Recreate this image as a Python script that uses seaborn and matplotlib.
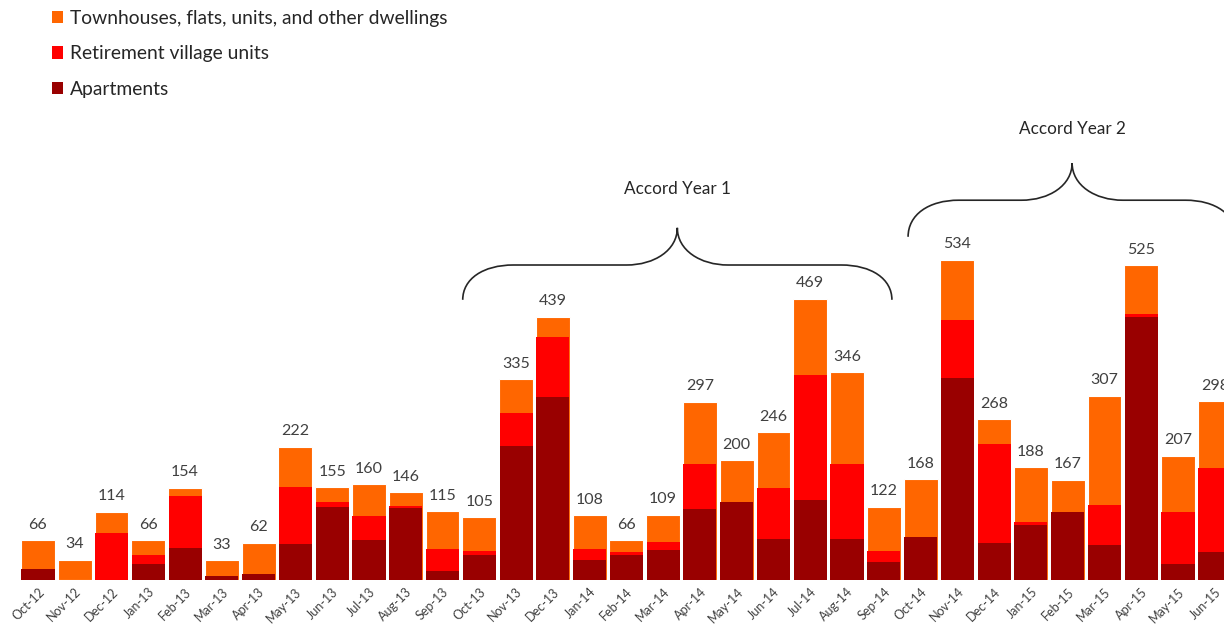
import numpy as np
import pandas as pd
import matplotlib
matplotlib.use("Agg")
import matplotlib.pyplot as plt
from matplotlib.path import Path
from matplotlib.patches import PathPatch, Patch
import seaborn as sns

months = ["Oct-12", "Nov-12", "Dec-12", "Jan-13", "Feb-13", "Mar-13", "Apr-13",
          "May-13", "Jun-13", "Jul-13", "Aug-13", "Sep-13", "Oct-13", "Nov-13",
          "Dec-13", "Jan-14", "Feb-14", "Mar-14", "Apr-14", "May-14", "Jun-14",
          "Jul-14", "Aug-14", "Sep-14", "Oct-14", "Nov-14", "Dec-14", "Jan-15",
          "Feb-15", "Mar-15", "Apr-15", "May-15", "Jun-15"]

apartments = [18, 0, 0, 26, 53, 7, 10, 60, 122, 67, 120, 15, 41, 224,
              305, 33, 42, 50, 118, 130, 68, 133, 69, 30, 71, 337,
              62, 91, 114, 58, 439, 26, 47]
retirement = [0, 0, 78, 15, 87, 0, 0, 95, 8, 40, 3, 36, 8, 54,
              100, 18, 5, 14, 75, 0, 86, 209, 125, 18, 0, 96,
              165, 6, 0, 67, 4, 88, 140]
townhouses = [48, 34, 36, 25, 14, 26, 52, 67, 25, 53, 23, 64, 56, 57,
              34, 57, 19, 45, 104, 70, 92, 127, 152, 74, 97, 101,
              41, 91, 53, 182, 82, 93, 111]

series_names = ["Townhouses, flats, units, and other dwellings",
                "Retirement village units",
                "Apartments"]
colors = {"Townhouses, flats, units, and other dwellings": "#FF6600",
          "Retirement village units": "#FF0000",
          "Apartments": "#990000"}

accord_labels = ["Accord Year 1", "Accord Year 2"]

df = pd.DataFrame({"month": months,
                   "apt": apartments,
                   "ret": retirement,
                   "town": townhouses})
df["lvl_apt"] = df["apt"]
df["lvl_ret"] = df["apt"] + df["ret"]
df["total"] = df["apt"] + df["ret"] + df["town"]

sns.set_theme(style="white")
plt.rcParams["font.family"] = ["Lato", "DejaVu Sans"]

W, H, DPI = 1224, 626, 100
fig = plt.figure(figsize=(W / DPI, H / DPI), dpi=DPI)
ax = fig.add_axes([0.016, 0.0735, 0.984, 0.9105])

bar_w = 0.92
# stacked look: draw cumulative levels from the tallest down
sns.barplot(data=df, x="month", y="total", color=colors[series_names[0]],
            saturation=1, width=bar_w, linewidth=0.8, edgecolor="#FFFFFF",
            ax=ax, order=months)
sns.barplot(data=df, x="month", y="lvl_ret", color=colors[series_names[1]],
            saturation=1, width=bar_w - 0.02, linewidth=0, ax=ax, order=months)
sns.barplot(data=df, x="month", y="lvl_apt", color=colors[series_names[2]],
            saturation=1, width=bar_w - 0.02, linewidth=0, ax=ax, order=months)

ax.set_xlim(-0.5, 32.25)
ax.set_ylim(0, 950)
ax.set_xlabel("")
ax.set_ylabel("")
ax.set_yticks([])
for s in ax.spines.values():
    s.set_visible(False)

ax.set_xticks(range(len(months)))
ax.set_xticklabels(months, rotation=45, ha="right", rotation_mode="anchor",
                   fontsize=9, color="#404040")
ax.tick_params(axis="x", length=0, pad=4)

text_col = "#404040"
for i, tot in enumerate(df["total"]):
    ax.annotate(f"{tot}", (i, tot), xytext=(0, 6), textcoords="offset points",
                ha="center", va="bottom", fontsize=11.5, color=text_col,
                annotation_clip=False)


def brace(ax, x0, x1, y_end, y_flat, y_tip, curl):
    xm = (x0 + x1) / 2
    h1 = y_flat - y_end
    h2 = y_tip - y_flat
    verts = [
        (x0, y_end),
        (x0, y_end + 0.6 * h1), (x0 + 0.4 * curl, y_flat), (x0 + curl, y_flat),
        (xm - curl, y_flat),
        (xm - 0.45 * curl, y_flat), (xm, y_flat + 0.4 * h2), (xm, y_tip),
        (xm, y_flat + 0.4 * h2), (xm + 0.45 * curl, y_flat), (xm + curl, y_flat),
        (x1 - curl, y_flat),
        (x1 - 0.4 * curl, y_flat), (x1, y_end + 0.6 * h1), (x1, y_end),
    ]
    codes = [Path.MOVETO,
             Path.CURVE4, Path.CURVE4, Path.CURVE4,
             Path.LINETO,
             Path.CURVE4, Path.CURVE4, Path.CURVE4,
             Path.CURVE4, Path.CURVE4, Path.CURVE4,
             Path.LINETO,
             Path.CURVE4, Path.CURVE4, Path.CURVE4]
    ax.add_patch(PathPatch(Path(verts, codes), fill=False, lw=1.2,
                           edgecolor="#262626", clip_on=False))


brace(ax, 11.55, 23.22, 467, 525, 587, 1.38)
ax.text(17.38, 638, accord_labels[0], ha="center", va="bottom",
        fontsize=12.3, color="#262626")
brace(ax, 23.66, 32.58, 572, 633, 695, 1.38)
ax.text(28.12, 738, accord_labels[1], ha="center", va="bottom",
        fontsize=12.3, color="#262626")

handles = [Patch(facecolor=colors[n], edgecolor="none") for n in series_names]
fig.legend(handles, series_names, loc="upper left",
           bbox_to_anchor=(0.028, 1.012), frameon=False, fontsize=13.9,
           handlelength=0.6, handleheight=0.6, handletextpad=0.35,
           labelspacing=0.95, labelcolor="#262626")

fig.savefig("out.png", dpi=DPI)
